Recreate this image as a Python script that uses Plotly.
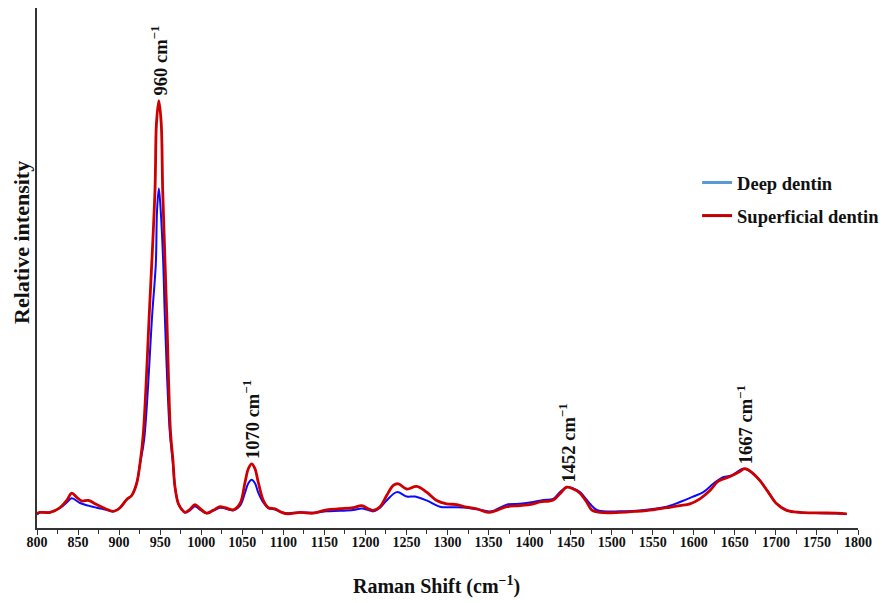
import plotly.graph_objects as go

# ---- data ----
shift_superficial = [800, 803.7, 815.8, 828, 836.2, 842.3, 848.4, 854.4, 862.5, 872.7, 882.8, 892.9,
                     901.1, 909.3, 915.3, 921.4, 925.5, 929.5, 936.8, 943.7, 945.5, 948.4, 951.3, 953.1, 958.0,
                     962.5, 965.6, 968.1, 972.1, 976.2, 980.3, 986.4, 992.4, 998.5, 1006.7, 1014.4,
                     1022.9, 1029, 1039.1, 1047.3, 1053.4, 1057.4, 1061.5, 1065.5, 1069.5, 1075.6,
                     1081.7, 1089.9, 1098, 1106.1, 1120.3, 1136.5, 1152.8, 1169.1, 1185.2, 1195.5,
                     1203.5, 1209.6, 1217.8, 1225.9, 1234, 1240.1, 1250.3, 1262.5, 1274.6, 1286.8,
                     1299, 1311.2, 1323.4, 1335.6, 1349.7, 1359.9, 1372.1, 1388.3, 1404.5, 1412.7,
                     1428.8, 1437, 1445.2, 1453.2, 1461.4, 1469.5, 1475.6, 1485.7, 1510.1, 1530.4,
                     1550.6, 1566.9, 1583.2, 1595.3, 1607.5, 1619.7, 1629.8, 1644.1, 1654.2, 1662.3,
                     1670.5, 1680.6, 1690.7, 1701, 1713.1, 1729.3, 1753.7, 1774, 1786.2]
intensity_superficial = [2.8, 3.0, 3.0, 3.9, 5.3, 6.7, 5.9, 5.2, 5.3, 4.5, 3.75, 3.2,
                         3.9, 5.5, 6.25, 8.6, 12.4, 18.2, 41.25, 64.9, 77.8, 82.2, 77.8, 64.9, 41.25,
                         18.75, 13.0, 7.85, 4.7, 3.6, 3.0, 3.6, 4.5, 3.75, 2.85, 3.4,
                         4.1, 3.9, 3.5, 4.7, 8.8, 11.4, 12.35, 11.4, 8.8, 5.3,
                         3.9, 3.7, 3.0, 2.7, 3.0, 2.85, 3.5, 3.7, 3.9, 4.3,
                         3.7, 3.4, 4.1, 6.25, 8.2, 8.5, 7.5, 8.0, 6.9, 5.3,
                         4.65, 4.5, 4.0, 3.7, 3.0, 3.4, 4.1, 4.3, 4.65, 5.0,
                         5.4, 6.6, 7.85, 7.5, 6.7, 5.0, 3.5, 3.0, 3.0, 3.2,
                         3.5, 3.9, 4.3, 4.65, 5.6, 7.2, 9.0, 9.9, 10.7, 11.4,
                         10.7, 9.1, 6.9, 4.65, 3.4, 3.0, 2.9, 2.85, 2.7]

shift_deep = [800, 803.7, 815.8, 828, 836.2, 842.3, 852.4, 862.5, 872.7, 882.8, 892.9,
              901.1, 909.3, 915.3, 921.4, 925.5, 930.5, 940.4, 944.7, 946.2, 948.4, 950.7, 953.8, 955.6,
              961.6, 965.2, 968.1, 972.1, 976.2, 980.3, 986.4, 992.4, 998.5, 1006.7, 1014.4,
              1022.9, 1029, 1039.1, 1047.3, 1053.4, 1057.4, 1061.5, 1065.5, 1069.5, 1075.6,
              1081.7, 1089.9, 1098, 1106.1, 1120.3, 1136.5, 1152.8, 1169.1, 1185.2, 1195.5,
              1203.5, 1209.6, 1217.8, 1225.9, 1238.3, 1250.3, 1260.4, 1274.6, 1290.8, 1306.9,
              1323.2, 1339.4, 1353.6, 1372.1, 1388.3, 1404.5, 1416.7, 1428.8, 1437, 1445.2,
              1453.2, 1461.4, 1473.5, 1481.7, 1510.1, 1542.6, 1566.9, 1583.2, 1599.4, 1611.6,
              1623.7, 1633.9, 1646.1, 1660.2, 1670.5, 1680.6, 1690.7, 1701, 1713.1, 1729.3,
              1753.7, 1774, 1786.2]
intensity_deep = [2.6, 3.0, 3.0, 3.85, 4.9, 5.7, 4.8, 4.3, 3.9, 3.55, 3.2,
                  3.9, 5.5, 6.25, 8.6, 12.4, 17.0, 41.25, 50.8, 61.0, 65.3, 61.0, 50.8, 41.25,
                  18.75, 13.0, 7.85, 4.7, 3.6, 3.0, 3.4, 4.2, 3.55, 2.85, 3.3,
                  3.9, 3.75, 3.4, 4.3, 6.8, 8.6, 9.3, 8.6, 6.8, 4.9,
                  3.85, 3.55, 3.0, 2.85, 3.0, 2.95, 3.2, 3.3, 3.45, 3.75,
                  3.45, 3.2, 3.9, 5.3, 6.9, 6.05, 6.05, 5.3, 4.1, 4.0,
                  3.9, 3.5, 3.2, 4.5, 4.65, 5.0, 5.4, 5.6, 6.9, 7.85,
                  7.6, 6.9, 4.65, 3.5, 3.2, 3.5, 4.1, 5.0, 6.05, 6.9,
                  8.5, 9.65, 10.1, 11.4, 10.7, 9.1, 6.9, 4.65, 3.4, 3.0,
                  2.85, 2.8, 2.7]

peak_labels = ["960 cm<sup>−1</sup>", "1070 cm<sup>−1</sup>", "1452 cm<sup>−1</sup>", "1667 cm<sup>−1</sup>"]
peak_shift = [948.4, 1061.5, 1445.2, 1662.3]
peak_height = [82.2, 12.35, 7.85, 11.4]

tick_values = list(range(800, 1801, 50))
tick_labels = [str(v) for v in tick_values]

series_names = ["Deep dentin", "Superficial dentin"]

SERIF = "Liberation Serif"
INK = "#111111"
LINE_BLUE = "#0a0aff"
LINE_RED = "#cc0000"
LEG_BLUE = "#5b9bd5"
LEG_RED = "#c00000"

fig = go.Figure()
fig.add_trace(go.Scatter(x=shift_deep, y=intensity_deep, mode="lines",
                         line=dict(color=LINE_BLUE, width=2, shape="spline", smoothing=1.0),
                         showlegend=False, hoverinfo="skip"))
fig.add_trace(go.Scatter(x=shift_superficial, y=intensity_superficial, mode="lines",
                         line=dict(color=LINE_RED, width=2.8, shape="spline", smoothing=1.0),
                         showlegend=False, hoverinfo="skip"))
# legend entries (legend swatches use lighter colours in the reference)
for name, col in zip(series_names, [LEG_BLUE, LEG_RED]):
    fig.add_trace(go.Scatter(x=[None], y=[None], mode="lines", name=name, legendgroup=name,
                             line=dict(color=col, width=3)))

for txt, px, py in zip(peak_labels, peak_shift, peak_height):
    fig.add_annotation(x=px, y=py, text=txt, textangle=-90, showarrow=False,
                       xanchor="center", yanchor="bottom", yshift=3,
                       font=dict(family=SERIF, size=18.5, color=INK, weight="bold"))

# axis titles (placed as in the reference, slightly off-centre)
fig.add_annotation(xref="paper", yref="paper", x=-0.0183, y=0.55, text="Relative intensity",
                   textangle=-90, showarrow=False, xanchor="center", yanchor="middle",
                   font=dict(family=SERIF, size=22, color=INK, weight="bold"))
fig.add_annotation(xref="paper", yref="paper", x=0.486, y=-0.11, text="Raman Shift (cm<sup>−1</sup>)",
                   showarrow=False, xanchor="center", yanchor="middle",
                   font=dict(family=SERIF, size=20, color=INK, weight="bold"))

# the page body adds an 8 px offset, so the figure is 8 px smaller than the window
fig.update_layout(
    width=885, height=595,
    margin=dict(l=29, r=35, t=0, b=75, autoexpand=False),
    paper_bgcolor="white", plot_bgcolor="white",
    font=dict(family=SERIF, color=INK),
    legend=dict(x=0.804, y=0.70, xanchor="left", yanchor="top",
                font=dict(family=SERIF, size=18.5, color=INK, weight="bold"),
                bgcolor="rgba(0,0,0,0)", itemwidth=30, tracegroupgap=6),
)
fig.update_xaxes(
    range=[800, 1800], tickvals=tick_values, ticktext=tick_labels, automargin=False,
    showline=True, linecolor="#333333", linewidth=1.5,
    ticks="outside", ticklen=5, tickwidth=1, tickcolor="#333333",
    minor=dict(ticks="outside", dtick=25, ticklen=4, tickcolor="#333333"),
    showgrid=False, zeroline=False, ticklabelstandoff=-5,
    tickfont=dict(family=SERIF, size=14, color=INK, weight="bold"),
)
fig.update_yaxes(
    range=[0, 100], automargin=False, showline=True, linecolor="#333333", linewidth=1.5,
    showticklabels=False, ticks="", showgrid=False, zeroline=False,
)

fig.write_html("out.html")
